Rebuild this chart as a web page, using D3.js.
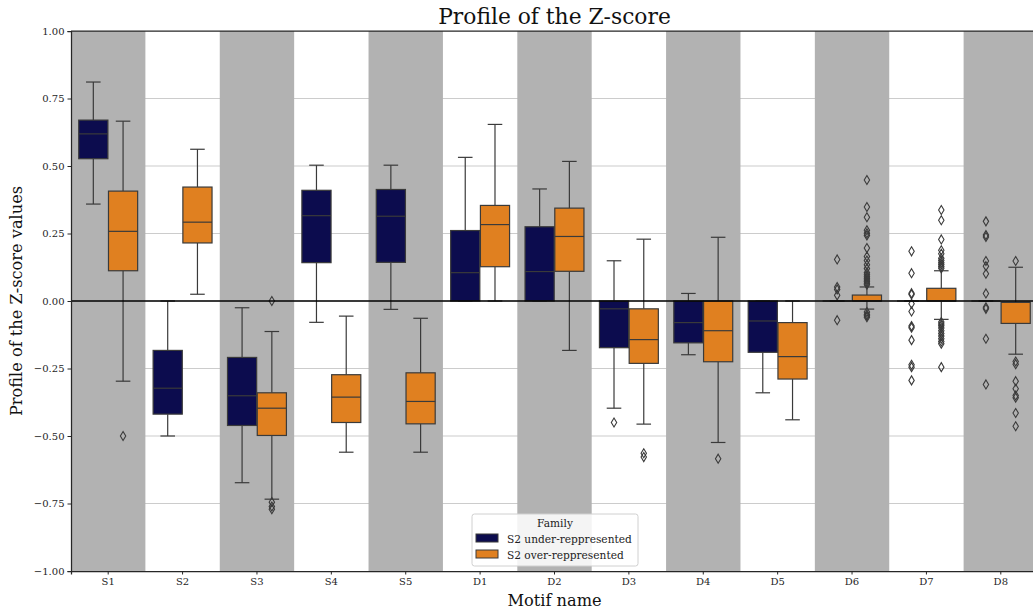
<!DOCTYPE html>
<html>
  <head>
    <meta charset="UTF-8">
    <title>Profile of the Z-score</title>
    <script src="https://cdn.jsdelivr.net/npm/d3@7"></script>
    <style>
      body, html { margin:0; padding:0; background:#fff; }
      svg text { font-family: "DejaVu Serif", serif; }
      .tick text { font-size: 10px; fill: #262626; }
      .tick line { stroke: #262626; }
      .domain { stroke: #262626; stroke-width: 1.25px; }
    </style>
  </head>
  <body>
  <div id="chart"></div>
<script type="text/javascript">

var categories = ['S1','S2','S3','S4','S5','D1','D2','D3','D4','D5','D6','D7','D8'];
var families = ['S2 under-reppresented', 'S2 over-reppresented'];
var yTicks = [-1.0, -0.75, -0.5, -0.25, 0.0, 0.25, 0.5, 0.75, 1.0];

// [whisker low, q1, median, q3, whisker high]
var underStats = [
  [0.359, 0.527, 0.619, 0.670, 0.811],
  [-0.50, -0.419, -0.323, -0.183, 0.0],
  [-0.673, -0.461, -0.351, -0.209, -0.025],
  [-0.079, 0.142, 0.316, 0.410, 0.503],
  [-0.031, 0.143, 0.314, 0.413, 0.503],
  [0.0, 0.0, 0.105, 0.261, 0.532],
  [0.0, 0.0, 0.109, 0.275, 0.415],
  [-0.397, -0.173, -0.029, 0.0, 0.149],
  [-0.199, -0.155, -0.080, 0.0, 0.028],
  [-0.340, -0.190, -0.074, 0.0, 0.0],
  [0.0, 0.0, 0.0, 0.0, 0.0],
  [0.0, 0.0, 0.0, 0.0, 0.0],
  [0.0, 0.0, 0.0, 0.0, 0.0]
];
var overStats = [
  [-0.297, 0.112, 0.258, 0.407, 0.666],
  [0.025, 0.215, 0.292, 0.422, 0.562],
  [-0.734, -0.498, -0.397, -0.340, -0.113],
  [-0.560, -0.450, -0.356, -0.273, -0.056],
  [-0.560, -0.455, -0.372, -0.266, -0.064],
  [0.0, 0.127, 0.283, 0.354, 0.654],
  [-0.183, 0.110, 0.239, 0.344, 0.517],
  [-0.456, -0.231, -0.143, -0.029, 0.229],
  [-0.524, -0.225, -0.110, 0.0, 0.236],
  [-0.440, -0.289, -0.206, -0.080, 0.0],
  [-0.030, 0.0, 0.0, 0.022, 0.052],
  [-0.068, 0.0, 0.0, 0.047, 0.112],
  [-0.197, -0.083, -0.005, -0.005, 0.125]
];

var underOutliers = [
  [], [], [], [], [], [], [],
  [-0.450],
  [],
  [],
  [0.154, 0.052, 0.043, 0.021, -0.071],
  [0.184, 0.103, 0.029, 0.024, -0.010, -0.039, -0.093, -0.099, -0.145, -0.236, -0.245, -0.294],
  [0.295, 0.244, 0.237, 0.148, 0.129, 0.101, 0.028, -0.023, -0.029, -0.140, -0.309]
];
var overOutliers = [
  [-0.50],
  [],
  [0.0, -0.745, -0.761, -0.771],
  [], [], [], [],
  [-0.564, -0.578],
  [-0.584],
  [],
  [0.448, 0.348, 0.310, 0.262, 0.251, 0.243, 0.196, 0.165, 0.150, 0.134, 0.120, 0.105, 0.097, 0.090, 0.084, 0.078, 0.072, 0.066, 0.060, -0.041, -0.050, -0.055, -0.060],
  [0.337, 0.299, 0.228, 0.188, 0.175, 0.158, 0.150, 0.142, 0.135, 0.128, 0.121, -0.078, -0.085, -0.092, -0.100, -0.110, -0.120, -0.130, -0.140, -0.150, -0.158, -0.245],
  [0.148, -0.224, -0.234, -0.297, -0.325, -0.350, -0.358, -0.415, -0.464]
];

var colors = ['#0c0c4e', '#e08020'];
var edge = '#3a3a3a';

var W = 1033, H = 612;
var margin = { left: 71, right: -5, top: 31, bottom: 41 };

var svg = d3.select('#chart').append('svg')
  .attr('width', W).attr('height', H);

var x = d3.scaleBand().domain(categories)
  .range([margin.left, W - margin.right]).padding(0);
var y = d3.scaleLinear().domain([-1, 1]).range([H - margin.bottom, margin.top]);

var hue = d3.scaleBand().domain([0, 1])
  .range([0, x.bandwidth() * 0.8]);
var boxW = hue.bandwidth() * 0.98;

// grid lines
svg.append('g').selectAll('line')
  .data(yTicks.filter(function(d){ return d !== -1 && d !== 1; }))
  .enter().append('line')
  .attr('x1', margin.left).attr('x2', W)
  .attr('y1', function(d){ return y(d); }).attr('y2', function(d){ return y(d); })
  .attr('stroke', '#cccccc').attr('stroke-width', 1.2);

// alternating band shading
svg.append('g').selectAll('rect')
  .data(categories.filter(function(d, i){ return i % 2 === 0; }))
  .enter().append('rect')
  .attr('x', function(d){ return x(d); })
  .attr('y', margin.top)
  .attr('width', x.bandwidth())
  .attr('height', y(-1) - y(1))
  .attr('fill', '#b2b2b2');

// boxes
var groups = svg.append('g');
[underStats, overStats].forEach(function(stats, h) {
  var outs = h === 0 ? underOutliers : overOutliers;
  categories.forEach(function(cat, i) {
    var s = stats[i];
    var cx = x(cat) + x.bandwidth() * 0.1 + hue(h) + hue.bandwidth() / 2;
    var g = groups.append('g');
    // whiskers
    g.append('line').attr('x1', cx).attr('x2', cx)
      .attr('y1', y(s[3])).attr('y2', y(s[4]))
      .attr('stroke', edge).attr('stroke-width', 1.2);
    g.append('line').attr('x1', cx).attr('x2', cx)
      .attr('y1', y(s[1])).attr('y2', y(s[0]))
      .attr('stroke', edge).attr('stroke-width', 1.2);
    g.selectAll('line.cap').data([s[0], s[4]]).enter().append('line')
      .attr('class', 'cap')
      .attr('x1', cx - boxW / 4).attr('x2', cx + boxW / 4)
      .attr('y1', function(d){ return y(d); }).attr('y2', function(d){ return y(d); })
      .attr('stroke', edge).attr('stroke-width', 1.2);
    // box
    g.append('rect')
      .attr('x', cx - boxW / 2).attr('width', boxW)
      .attr('y', y(s[3])).attr('height', Math.max(0, y(s[1]) - y(s[3])))
      .attr('fill', colors[h]).attr('stroke', edge).attr('stroke-width', 1.2);
    g.append('line')
      .attr('x1', cx - boxW / 2).attr('x2', cx + boxW / 2)
      .attr('y1', y(s[2])).attr('y2', y(s[2]))
      .attr('stroke', edge).attr('stroke-width', 1.2);
    // outliers (thin diamonds)
    g.selectAll('path.out').data(outs[i]).enter().append('path')
      .attr('class', 'out')
      .attr('d', 'M0,-4.5L2.7,0L0,4.5L-2.7,0Z')
      .attr('transform', function(d){ return 'translate(' + cx + ',' + y(d) + ')'; })
      .attr('fill', 'none').attr('stroke', edge).attr('stroke-width', 1.1);
  });
});

// zero line
svg.append('line')
  .attr('x1', margin.left).attr('x2', W)
  .attr('y1', y(0)).attr('y2', y(0))
  .attr('stroke', '#000').attr('stroke-width', 1.5);

// axes
svg.append('g')
  .attr('transform', 'translate(' + margin.left + ',0)')
  .call(d3.axisLeft(y).tickValues(yTicks).tickFormat(d3.format('.2f')).tickSizeOuter(0).tickSize(3.5))
  .call(function(g){ g.selectAll('text').text(function(d){ return d3.format('.2f')(d).replace('-', '\u2212'); }); });
svg.append('g')
  .attr('transform', 'translate(0,' + y(-1) + ')')
  .call(d3.axisBottom(x).tickSizeOuter(0).tickSize(3.5));
svg.append('line')
  .attr('x1', margin.left).attr('x2', W)
  .attr('y1', y(1)).attr('y2', y(1))
  .attr('stroke', '#262626').attr('stroke-width', 1.25);

// titles
svg.append('text')
  .attr('x', (margin.left + W - margin.right) / 2).attr('y', 24)
  .attr('text-anchor', 'middle').attr('font-size', 21.8).attr('fill', '#111')
  .text('Profile of the Z-score');
svg.append('text')
  .attr('x', (margin.left + W - margin.right) / 2).attr('y', 606)
  .attr('text-anchor', 'middle').attr('font-size', 16.2).attr('fill', '#111')
  .text('Motif name');
svg.append('text')
  .attr('transform', 'translate(22,' + y(0) + ') rotate(-90)')
  .attr('text-anchor', 'middle').attr('font-size', 16.2).attr('fill', '#111')
  .text('Profile of the Z-score values');

// legend
var lg = svg.append('g').attr('transform', 'translate(472,514)');
lg.append('rect').attr('width', 166).attr('height', 52).attr('rx', 2.5)
  .attr('fill', '#fff').attr('fill-opacity', 0.85)
  .attr('stroke', '#d0d0d0').attr('stroke-width', 1);
lg.append('text').attr('x', 83).attr('y', 13).attr('text-anchor', 'middle')
  .attr('font-size', 10.6).attr('fill', '#222').text('Family');
families.forEach(function(f, i) {
  lg.append('rect').attr('x', 4).attr('y', 20 + i * 16).attr('width', 22).attr('height', 8)
    .attr('fill', colors[i]).attr('stroke', edge).attr('stroke-width', 1);
  lg.append('text').attr('x', 35).attr('y', 28.5 + i * 16)
    .attr('font-size', 10.6).attr('fill', '#222').text(f);
});

</script>
  </body>
</html>
